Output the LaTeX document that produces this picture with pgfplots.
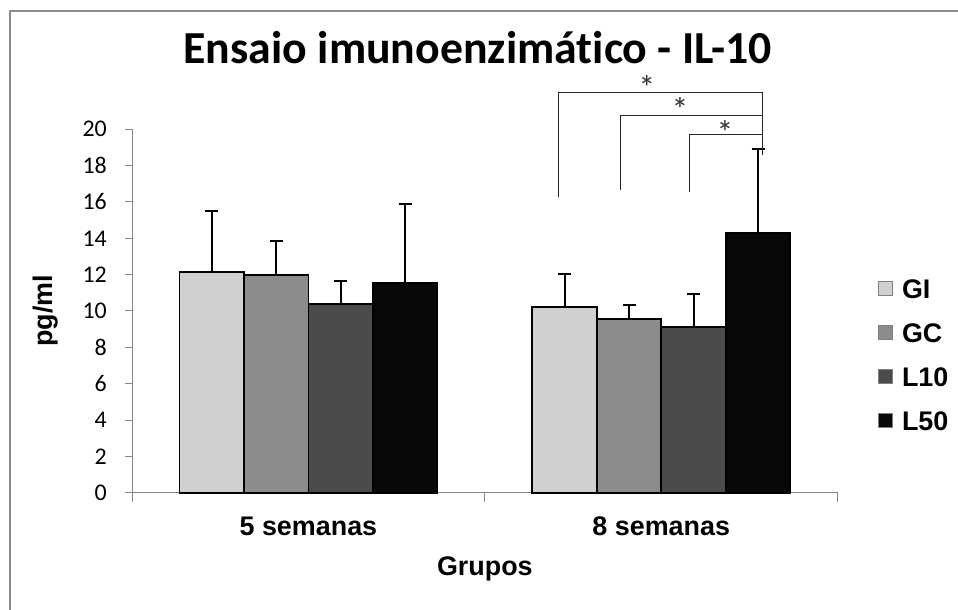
\documentclass[border=0pt]{standalone}
\usepackage{pgfplots}
\pgfplotsset{compat=1.18}
\usepackage{fontspec}
\setmainfont{Liberation Sans}
\newfontfamily\calibri{Carlito}[Ligatures={NoCommon}]
\definecolor{cGI}{HTML}{D0D0D0}
\definecolor{cGC}{HTML}{8C8C8C}
\definecolor{cL10}{HTML}{4B4B4B}
\definecolor{cL50}{HTML}{080808}
\definecolor{axisgray}{HTML}{868686}
\definecolor{framegray}{HTML}{8C8C8C}
\pgfplotsset{
  errstyle/.style={error bars/.cd, y dir=plus, y explicit,
    error bar style={line width=2bp, black},
    error mark options={rotate=90, line width=2bp, mark size=6.5bp, black}},
}
\begin{document}
\begin{tikzpicture}
\useasboundingbox (0,0) rectangle (958bp,610bp);
\fill[white] (0,0) rectangle (958bp,610bp);
\draw[framegray, line width=2bp] (9.5bp,0bp) -- (9.5bp,599bp) -- (958bp,599bp);
\node[anchor=base, text depth=0pt, font=\calibri\bfseries\fontsize{46}{46}\selectfont] at (477.5bp,546bp) {Ensaio imunoenzimático - IL-10};
\begin{axis}[
  at={(132bp,117.3bp)}, anchor=south west,
  scale only axis, width=705.7bp, height=363.4bp,
  xmin=-0.5, xmax=1.5, ymin=0, ymax=20,
  ybar=0pt, bar width=64.5bp,
  clip=false,
  axis x line=bottom, axis y line=left,
  axis line style={-, draw=axisgray, line width=1bp},
  xtick={0,1}, xticklabels={5 semanas, 8 semanas},
  minor xtick={-0.5,0.5,1.5},
  ytick={0,2,...,20},
  tick align=outside,
  major tick length=7bp, minor tick length=9bp,
  every major x tick/.append style={draw=none},
  every minor x tick/.append style={draw=axisgray, line width=1bp},
  every major y tick/.append style={draw=axisgray, line width=1bp},
  /pgf/number format/assume math mode=true,
  yticklabel style={font=\calibri\fontsize{24}{24}\selectfont, anchor=east, inner sep=0pt, xshift=-18bp},
  xticklabel style={font=\bfseries\fontsize{27}{27}\selectfont, anchor=base, yshift=-36bp},
  xlabel={Grupos}, ylabel={pg/ml},
  every axis x label/.style={at={(0.5,-0.2265)}, anchor=base, font=\bfseries\fontsize{27}{27}\selectfont},
  every axis y label/.style={at={(-0.123,0.5)}, rotate=90, anchor=center, font=\bfseries\fontsize{27}{27}\selectfont},
  legend style={at={(1.057,0.587)}, anchor=north west, draw=none, fill=none, inner sep=0pt,
    column sep=8.7bp, row sep=25bp, font=\bfseries\fontsize{27}{27}\selectfont,
    nodes={inner sep=0pt, text height=19bp, text depth=0pt}},
  legend cell align=left,
  legend image code/.code={\draw[#1, line width=1.2bp, draw=gray] (0bp,-6.5bp) rectangle (14bp,7.5bp);},
]
\addplot[fill=cGI, draw=black, line width=1.8bp, errstyle]
  table[x=x, y=y, y error=e] {
x y e
0 12.16 3.36
1 10.20 1.84
};
\addlegendentry{GI}
\addplot[fill=cGC, draw=black, line width=1.8bp, errstyle]
  table[x=x, y=y, y error=e] {
x y e
0 11.98 1.89
1 9.56 0.77
};
\addlegendentry{GC}
\addplot[fill=cL10, draw=black, line width=1.8bp, errstyle]
  table[x=x, y=y, y error=e] {
x y e
0 10.37 1.30
1 9.14 1.78
};
\addlegendentry{L10}
\addplot[fill=cL50, draw=black, line width=1.8bp, errstyle]
  table[x=x, y=y, y error=e] {
x y e
0 11.52 4.37
1 14.31 4.59
};
\addlegendentry{L50}
\draw[line width=1bp, black!85] (axis cs:0.710,16.29) |- (axis cs:1.2875,22.04) -- (axis cs:1.2875,18.59);
\draw[line width=1bp, black!85] (axis cs:0.885,16.66) |- (axis cs:1.2875,20.75);
\draw[line width=1bp, black!85] (axis cs:1.0786,16.57) |- (axis cs:1.2875,19.72);
\node[anchor=north, inner sep=0pt, font=\calibri\fontsize{34}{34}\selectfont, black!80] at (axis cs:0.959,23.0) {*};
\node[anchor=north, inner sep=0pt, font=\calibri\fontsize{34}{34}\selectfont, black!80] at (axis cs:1.053,21.79) {*};
\node[anchor=north, inner sep=0pt, font=\calibri\fontsize{34}{34}\selectfont, black!80] at (axis cs:1.181,20.51) {*};
\end{axis}
\end{tikzpicture}
\end{document}
